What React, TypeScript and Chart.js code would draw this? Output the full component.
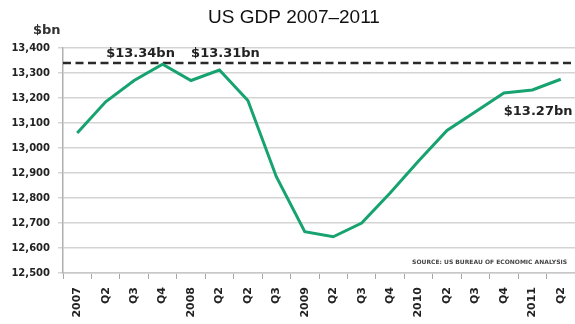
import React, { useEffect, useRef } from "react";
import { Chart, registerables } from "chart.js";

Chart.register(...registerables);

const categories = ["2007", "Q2", "Q3", "Q4", "2008", "Q2", "Q2", "Q3", "2009", "Q2", "Q3", "Q4", "2010", "Q2", "Q3", "Q4", "2011", "Q2"];
const gdp = [13060, 13185, 13270, 13335, 13270, 13312, 13190, 12885, 12665, 12645, 12700, 12820, 12948, 13070, 13145, 13220, 13232, 13275];
const peakLevel = 13340;
const annotationTexts = ["$13.34bn", "$13.31bn", "$13.27bn"];
const annotationIndex = [3, 5, 17];
const titleText = "US GDP 2007\u20132011";
const unitText = "$bn";
const sourceText = "SOURCE: US BUREAU OF ECONOMIC ANALYSIS";
const yMin = 12500;
const yMax = 13400;
const yStep = 100;

const BOLD = '"DejaVu Sans", Verdana, sans-serif';

const overlayPlugin = {
  id: "overlay",
  beforeDatasetsDraw(chart: any) {
    const { ctx, chartArea, scales } = chart;
    const y = scales.y.getPixelForValue(peakLevel);
    ctx.save();
    ctx.strokeStyle = "#2a2a2a";
    ctx.lineWidth = 2.5;
    ctx.setLineDash([8, 4.5]);
    ctx.beginPath();
    ctx.moveTo(chartArea.left, y);
    ctx.lineTo(chartArea.right, y);
    ctx.stroke();
    ctx.restore();
  },
  afterDraw(chart: any) {
    const { ctx, scales, chartArea } = chart;
    const xs = scales.x;
    const ys = scales.y;
    ctx.save();
    // title
    ctx.fillStyle = "#111";
    ctx.font = '19px "Liberation Sans", Arial, sans-serif';
    ctx.textAlign = "center";
    ctx.textBaseline = "middle";
    ctx.fillText(titleText, 294, 18);
    // unit
    ctx.font = "bold 13px " + BOLD;
    ctx.textAlign = "left";
    ctx.fillStyle = "#333";
    ctx.fillText(unitText, 33, 31);
    // annotations
    ctx.fillStyle = "#222";
    ctx.font = "bold 13px " + BOLD;
    const p0x = xs.getPixelForValue(annotationIndex[0]);
    const p0y = ys.getPixelForValue(gdp[annotationIndex[0]]);
    ctx.textAlign = "center";
    ctx.fillText(annotationTexts[0], p0x - 22, p0y - 11);
    const p1x = xs.getPixelForValue(annotationIndex[1]);
    ctx.fillText(annotationTexts[1], p1x + 6, p0y - 11);
    const p2x = xs.getPixelForValue(annotationIndex[2]);
    const p2y = ys.getPixelForValue(gdp[annotationIndex[2]]);
    ctx.textAlign = "left";
    ctx.fillText(annotationTexts[2], p2x - 57, p2y + 32);
    // source
    ctx.font = "bold 6px " + BOLD;
    ctx.fillStyle = "#444";
    ctx.textAlign = "right";
    ctx.fillText(sourceText, chartArea.right - 8, ys.getPixelForValue(yMin) - 11);
    ctx.restore();
  },
};

export default function App() {
  const ref = useRef<HTMLCanvasElement | null>(null);
  useEffect(() => {
    if (!ref.current) return;
    const chart = new Chart(ref.current, {
      type: "line",
      data: {
        labels: categories,
        datasets: [
          {
            data: gdp,
            borderColor: "#16a36f",
            borderWidth: 3,
            pointRadius: 0,
            tension: 0,
            fill: false,
          },
        ],
      },
      options: {
        responsive: false,
        animation: false,
        layout: { padding: { left: 0, right: 0, top: 48, bottom: 0 } },
        plugins: {
          legend: { display: false },
          tooltip: { enabled: false },
          title: { display: false },
        },
        scales: {
          x: {
            type: "category",
            offset: true,
            grid: {
              display: true,
              drawOnChartArea: false,
              drawTicks: true,
              tickLength: 6,
              color: "#a8a8a8",
              offset: true,
            },
            border: { display: true, color: "#c8c8c8", width: 1.5 },
            ticks: {
              autoSkip: false,
              minRotation: 90,
              maxRotation: 90,
              padding: 8,
              color: "#222",
              font: { family: BOLD, weight: "bold", size: 11 },
            },
            afterFit(scale: any) {
              scale.height = 51;
              scale.paddingLeft = 0;
              scale.paddingRight = 0;
            },
          },
          y: {
            min: yMin,
            max: yMax,
            grid: {
              color: "#d4d4d4",
              lineWidth: 1.5,
              drawTicks: true,
              tickLength: 5,
            },
            border: { display: true, color: "#b0b0b0", width: 1.5 },
            ticks: {
              stepSize: yStep,
              padding: 8,
              color: "#222",
              font: { family: BOLD, weight: "bold", size: 10 },
            },
            afterFit(scale: any) {
              scale.width = 63;
              scale.paddingTop = 0;
              scale.paddingBottom = 0;
            },
          },
        },
      },
      plugins: [overlayPlugin],
    } as any);
    return () => chart.destroy();
  }, []);
  return (
    <div style={{ position: "absolute", left: 0, top: 0, width: 575, height: 324, background: "#fff" }}>
      <canvas ref={ref} width={575} height={324} />
    </div>
  );
}
